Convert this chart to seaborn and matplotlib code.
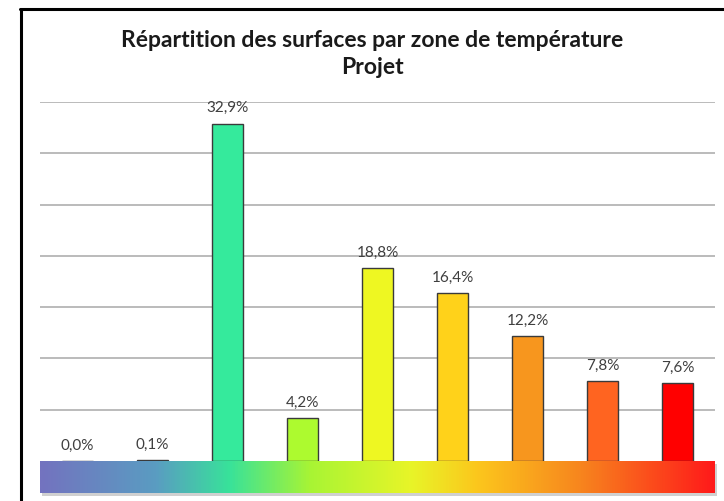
import matplotlib
matplotlib.use("Agg")
import matplotlib.pyplot as plt
from matplotlib.colors import LinearSegmentedColormap
from matplotlib.lines import Line2D
from matplotlib.patches import Rectangle
import numpy as np
import pandas as pd
import seaborn as sns

# ---- data ----
zones = ["Z1", "Z2", "Z3", "Z4", "Z5", "Z6", "Z7", "Z8", "Z9"]
shares = [0.0, 0.1, 32.9, 4.2, 18.8, 16.4, 12.2, 7.8, 7.6]
bar_colors = ["#7373BF", "#4E86B8", "#35EA9C", "#ADFA2F", "#EEF722",
              "#FFD21A", "#F7961E", "#FF6420", "#FF0000"]
title = "Répartition des surfaces par zone de température\nProjet"
grad_stops = [(0.00, "#7373BF"), (0.17, "#5A9CC2"), (0.28, "#38E29A"),
              (0.40, "#A8F434"), (0.55, "#E8F528"), (0.65, "#FCC61C"),
              (0.80, "#F7861E"), (1.00, "#FF1A1A")]

sns.set_theme(style="white")
plt.rcParams["font.family"] = ["Lato", "DejaVu Sans"]

W, H = 724, 501
fig = plt.figure(figsize=(W / 100, H / 100), dpi=100)
fig.patch.set_facecolor("white")
fig.patch.set_edgecolor("white")
fig.patch.set_linewidth(0)

fig.text(372 / W, 1 - 54 / H, title, ha="center", va="center",
         fontsize=16.5, fontweight="bold", color="#1a1a1a", linespacing=1.35)

# main axes
ax = fig.add_axes([40 / W, 40 / H, 675 / W, 359 / H])
df = pd.DataFrame({"zone": zones, "share": shares})
sns.barplot(data=df, x="zone", y="share", hue="zone", palette=bar_colors,
            saturation=1, width=0.41, edgecolor="#3a3a3a", linewidth=1.0,
            legend=False, ax=ax, zorder=3)
ax.set_ylim(0, 35)
ax.set_xlim(-0.5, len(zones) - 0.5)
for yv in range(5, 40, 5):
    ax.axhline(yv, color="#b5b5b5", lw=1.3, zorder=1)
for s in ax.spines.values():
    s.set_visible(False)
ax.set_xticks([])
ax.set_yticks([])
ax.set_xlabel("")
ax.set_ylabel("")
ax.patch.set_alpha(0)

for i, v in enumerate(shares):
    lab = f"{v:.1f}%".replace(".", ",")
    ax.annotate(lab, (i, v), xytext=(0, 11), textcoords="offset points",
                ha="center", va="center", fontsize=11, color="#3f3f3f")

# shadow under gradient
sax = fig.add_axes([42 / W, (H - 496) / H, 675 / W, 32 / H])
sax.set_facecolor("#d0d0d0")
sax.set_xticks([])
sax.set_yticks([])
for s in sax.spines.values():
    s.set_visible(False)

# gradient strip
gax = fig.add_axes([40 / W, (H - 493) / H, 675 / W, 32 / H])
cmap = LinearSegmentedColormap.from_list("zones", grad_stops)
gax.imshow(np.linspace(0, 1, 512)[None, :], aspect="auto", cmap=cmap,
           extent=[0, 1, 0, 1])
gax.set_axis_off()

# keep right margin clean white
fig.add_artist(Rectangle((717 / W, 0), 1, 1 - 12 / H, transform=fig.transFigure,
                         facecolor="white", edgecolor="none", zorder=20))

# frame border (left and top visible, others run off the image)
fig.add_artist(Line2D([21 / W, 21 / W], [0, 1 - 9 / H], transform=fig.transFigure,
                      color="black", lw=2.2, zorder=30))
fig.add_artist(Line2D([20 / W, 1.0], [1 - 9 / H, 1 - 9 / H], transform=fig.transFigure,
                      color="black", lw=2.2, zorder=30))

fig.savefig("out.png", dpi=100, facecolor="white")
